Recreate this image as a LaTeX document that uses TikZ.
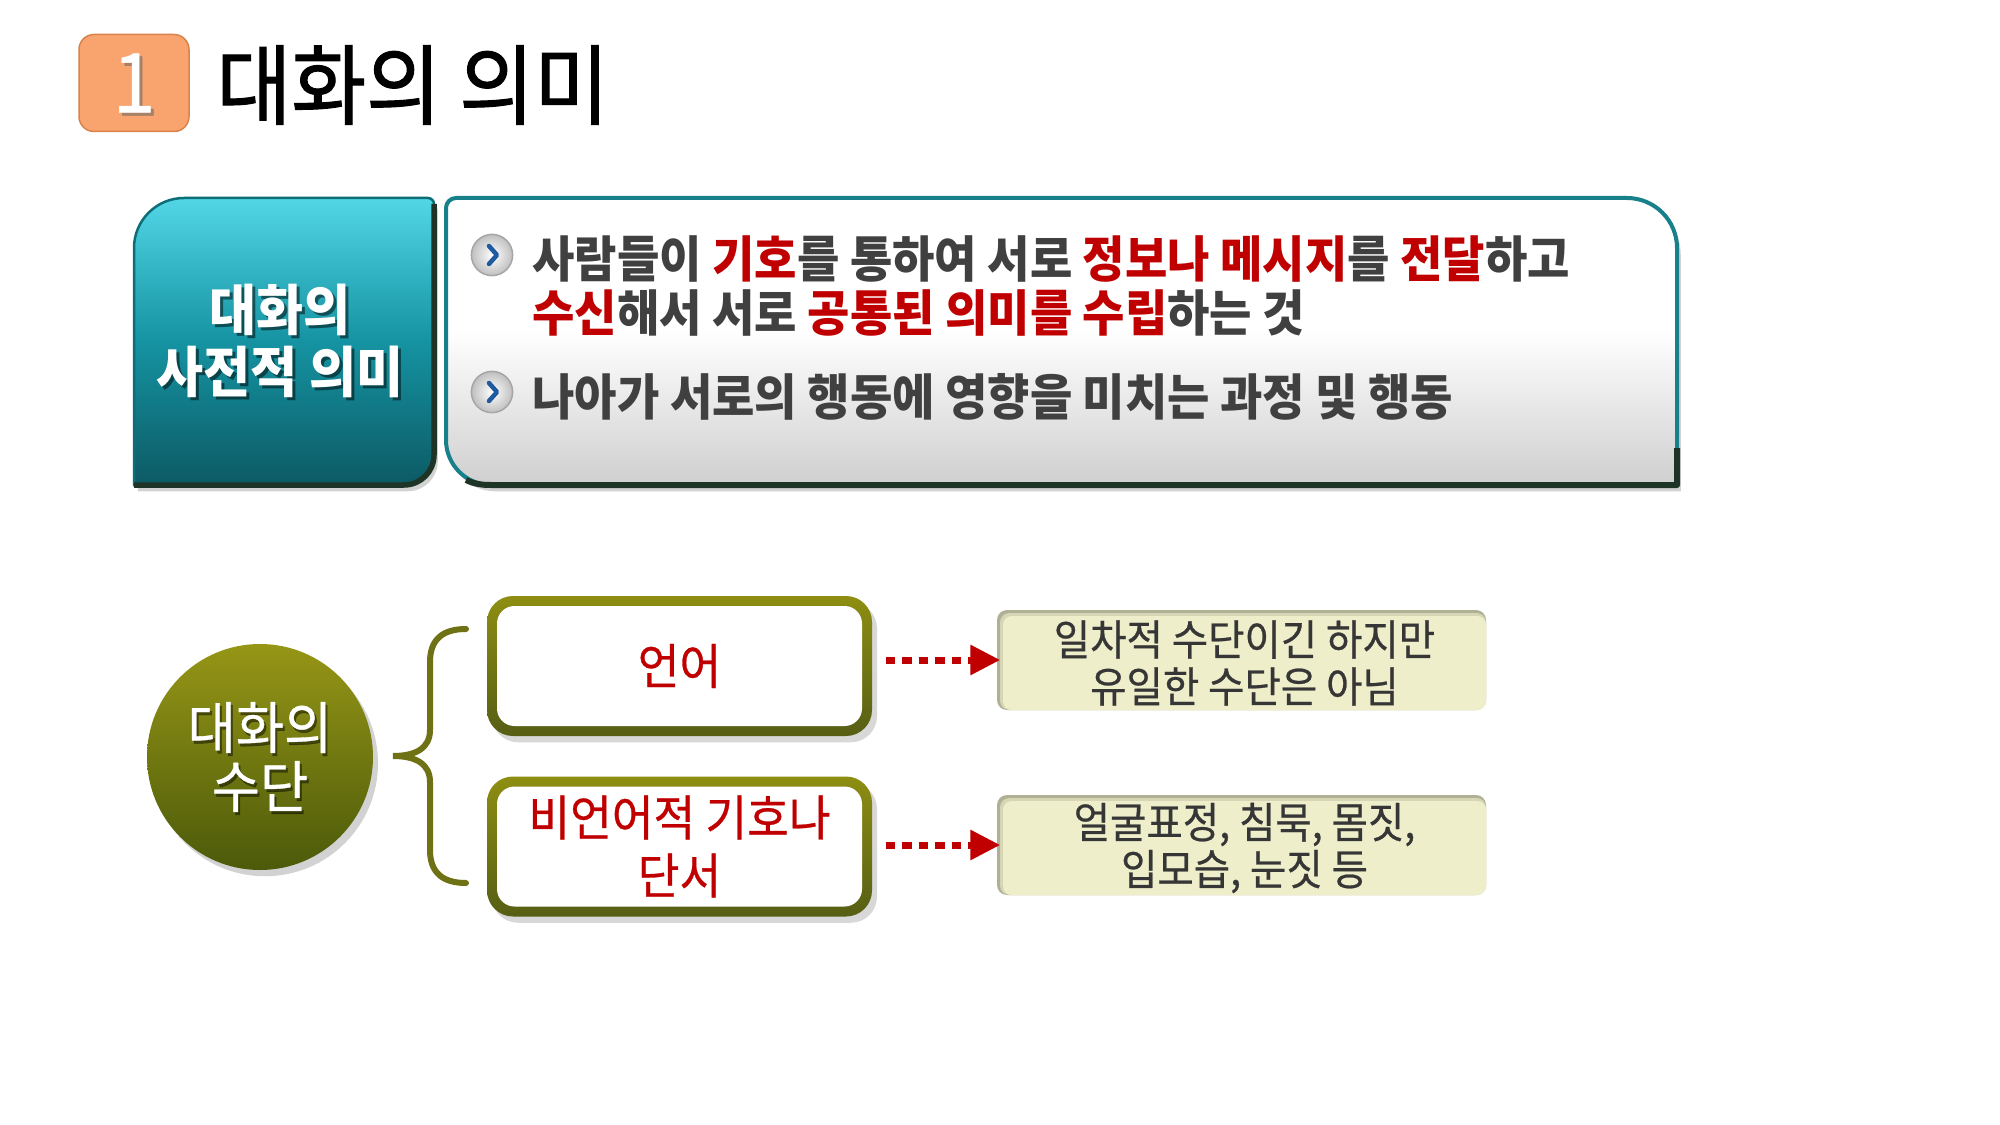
\documentclass[tikz,border=0pt]{standalone}
\usepackage{fontspec}
\setmainfont{Noto Sans CJK KR}[FakeStretch=0.93]
\newfontfamily\medfont{Noto Sans CJK KR}[FakeStretch=0.93, FakeBold=0.6]
\newfontfamily\headfont{Noto Sans CJK KR}[FakeStretch=0.93, FakeBold=1.2]
\usetikzlibrary{shadows,arrows.meta}
\definecolor{orangefill}{HTML}{F9A36E}
\definecolor{orangedraw}{HTML}{D9824A}
\definecolor{tealtop}{HTML}{52D6E6}
\definecolor{tealmid}{HTML}{1593A2}
\definecolor{tealbot}{HTML}{0C5A64}
\definecolor{tealedge}{HTML}{0E6E78}
\definecolor{darkedge}{HTML}{1E3426}
\definecolor{wbord}{HTML}{17808A}
\definecolor{olivetop}{HTML}{8E8E12}
\definecolor{olivebot}{HTML}{565E14}
\definecolor{circtop}{HTML}{969616}
\definecolor{circbot}{HTML}{4C5A0A}
\definecolor{braceol}{HTML}{6E7214}
\definecolor{beige}{HTML}{EEEECB}
\definecolor{beigemid}{HTML}{D6D6B6}
\definecolor{beigeedge}{HTML}{B0B094}
\definecolor{kred}{HTML}{C00000}
\definecolor{kgray}{HTML}{404040}
\definecolor{tgray}{HTML}{363636}
\definecolor{chevblue}{HTML}{1E5AA0}
\newcommand\WhitePath{(446,208) .. controls (446,202.5) and (450.5,198) .. (456,198)
  -- (1627,198) .. controls (1654.6,198) and (1677,220.4) .. (1677,248)
  -- (1677,485) -- (491,485) .. controls (466.2,485) and (446,464.8) .. (446,440) -- cycle}
\tikzset{
  numbox/.style={draw=orangedraw, line width=0.6pt, fill=orangefill, rounded corners=6pt,
    minimum width=44pt, minimum height=38.8pt, inner sep=0pt},
  numtext/.style={inner sep=0pt, font=\medfont\fontsize{33pt}{36pt}\selectfont},
  titletext/.style={anchor=west, inner sep=0pt, font=\headfont\fontsize{35pt}{40pt}\selectfont},
  tealtext/.style={align=center, inner sep=0pt, font=\bfseries\fontsize{22pt}{24.8pt}\selectfont},
  ltext/.style={anchor=west, inner sep=0pt, text=kgray, font=\bfseries\fontsize{19.8pt}{22pt}\selectfont},
  bulletball/.style={circle, minimum size=16.5pt, inner sep=0pt, draw=black!35, line width=0.6pt,
    inner color=white, outer color=black!25},
  chev/.style={draw=chevblue, line width=1.8pt, line cap=round, line join=round},
  circ/.style={circle, minimum size=90.4pt, inner sep=0pt, top color=circtop, bottom color=circbot,
    drop shadow={shadow xshift=2pt, shadow yshift=-2.5pt, opacity=.35}},
  circtext/.style={align=center, inner sep=0pt, font=\medfont\fontsize{22.5pt}{23.6pt}\selectfont},
  bracestyle/.style={draw=braceol, line width=2.4pt, line cap=round},
  obox/.style={rectangle, rounded corners=10.4pt, minimum width=154pt, minimum height=56pt,
    inner sep=0pt, top color=olivetop, bottom color=olivebot,
    drop shadow={shadow xshift=2pt, shadow yshift=-2.5pt, opacity=.3}},
  ibox/.style={rectangle, rounded corners=7pt, fill=white, minimum width=146pt,
    minimum height=48pt, inner sep=0pt, text=kred, align=center,
    font=\medfont\fontsize{19.5pt}{23.2pt}\selectfont},
  rbox/.style={rectangle, rounded corners=4pt, minimum width=195.6pt, minimum height=40pt,
    fill=beigeedge, inner sep=0pt},
  rmid/.style={rectangle, rounded corners=3.8pt, minimum width=194.4pt, minimum height=38.8pt,
    fill=beigemid, inner sep=0pt},
  rin/.style={rectangle, rounded corners=3.5pt, minimum width=193.2pt, minimum height=37.6pt,
    fill=beige, inner sep=0pt, text=tgray, align=center,
    font=\medfont\fontsize{17pt}{18.8pt}\selectfont},
  darrow/.style={draw=kred, line width=2.8pt, dash pattern=on 3.8pt off 2.8pt, shorten <=5.2pt,
    shorten >=-1.5pt, -{Triangle[length=12pt,width=11.5pt]}},
}
\begin{document}
\begin{tikzpicture}[x=0.4pt,y=-0.4pt]
\useasboundingbox[fill=white] (0,0) rectangle (2000,1125);

% ---------- header ----------
\node[numbox] (num) at (134,83) {};
\node[numtext, text=black!60, opacity=.55] (numsh) at ([shift={(3,3)}]num.center) {1};
\node[numtext, text=white] (numt) at (num.center) {1};
\node[titletext] (title) at (216,85) {대화의 의미};

% ---------- teal box ----------
\path[top color=tealtop, bottom color=tealbot, middle color=tealmid,
      drop shadow={shadow xshift=1.5pt, shadow yshift=-2.5pt, opacity=.35},
      postaction={draw=tealedge, line width=1pt}]
  (134,485) -- (134,248) .. controls (134,220.4) and (156.4,198) .. (184,198)
  -- (428,198) .. controls (431.3,198) and (434,200.7) .. (434,204)
  -- (434,455) .. controls (434,471.6) and (420.6,485) .. (404,485) -- cycle;
\draw[darkedge, line width=2.2pt, line join=round]
  (134,485) -- (404,485) .. controls (420.6,485) and (434,471.6) .. (434,455) -- (434,204);
\node[tealtext, text=black, opacity=.5] (ttsh) at (283,344) {대화의\\사전적 의미};
\node[tealtext, text=white] (tt) at (280,341) {대화의\\사전적 의미};

% ---------- white box ----------
\path[fill=white, drop shadow={shadow xshift=1.5pt, shadow yshift=-2.5pt, opacity=.35}] \WhitePath;
\begin{scope}
  \clip \WhitePath;
  \fill[top color=white, bottom color=black!19] (446,330) rectangle (1677,486);
\end{scope}
\draw[wbord, line width=1.6pt, line join=round] \WhitePath;
\draw[darkedge, line width=2.4pt, line join=round]
  (466,480) .. controls (474,484) and (482,485) .. (491,485) -- (1677,485) -- (1677,448);

\node[bulletball] (u1) at (492,255) {};
\draw[chev] ([shift={(-3,-9)}]u1.center) -- ([shift={(5,0)}]u1.center) -- ([shift={(-3,9)}]u1.center);
\node[bulletball] (u2) at (492,392) {};
\draw[chev] ([shift={(-3,-9)}]u2.center) -- ([shift={(5,0)}]u2.center) -- ([shift={(-3,9)}]u2.center);

\node[ltext] (l1) at (532,259) {사람들이 \textcolor{kred}{기호}를 통하여 서로 \textcolor{kred}{정보나 메시지}를 \textcolor{kred}{전달}하고};
\node[ltext] (l2) at (532,313) {\textcolor{kred}{수신}해서 서로 \textcolor{kred}{공통된 의미를 수립}하는 것};
\node[ltext] (l3) at (532,397) {나아가 서로의 행동에 영향을 미치는 과정 및 행동};

% ---------- bottom ----------
\node[circ] (mc) at (260,757) {};
\node[circtext, text=black, opacity=.45] (mcsh) at (262,760) {대화의\\수단};
\node[circtext, text=white] (mct) at (mc.center) {대화의\\수단};

\draw[bracestyle]
  (466,629) .. controls (442,629) and (430,640) .. (430,662) -- (430,730)
  .. controls (430,748) and (416,756) .. (393,756)
  .. controls (416,756) and (430,764) .. (430,782) -- (430,850)
  .. controls (430,872) and (442,883) .. (466,883);

\node[obox] (b1o) at (679.5,666) {};
\node[ibox] (b1) at (b1o.center) {언어};
\node[obox] (b2o) at (679.5,846.5) {};
\node[ibox] (b2) at (b2o.center) {비언어적 기호나\\단서};

\node[rbox] (r1o) at (1241.5,660) {};
\node[rmid] (r1m) at ([shift={(1.5,1.5)}]r1o.center) {};
\node[rin] (r1) at ([shift={(3,3)}]r1o.center) {일차적 수단이긴 하지만\\유일한 수단은 아님};
\node[rbox] (r2o) at (1241.5,845) {};
\node[rmid] (r2m) at ([shift={(1.5,1.5)}]r2o.center) {};
\node[rin] (r2) at ([shift={(3,3)}]r2o.center) {얼굴표정, 침묵, 몸짓,\\입모습, 눈짓 등};

\draw[darrow] (b1o.east |- r1o.west) -- (r1o.west);
\draw[darrow] (b2o.east |- r2o.west) -- (r2o.west);
\end{tikzpicture}
\end{document}
